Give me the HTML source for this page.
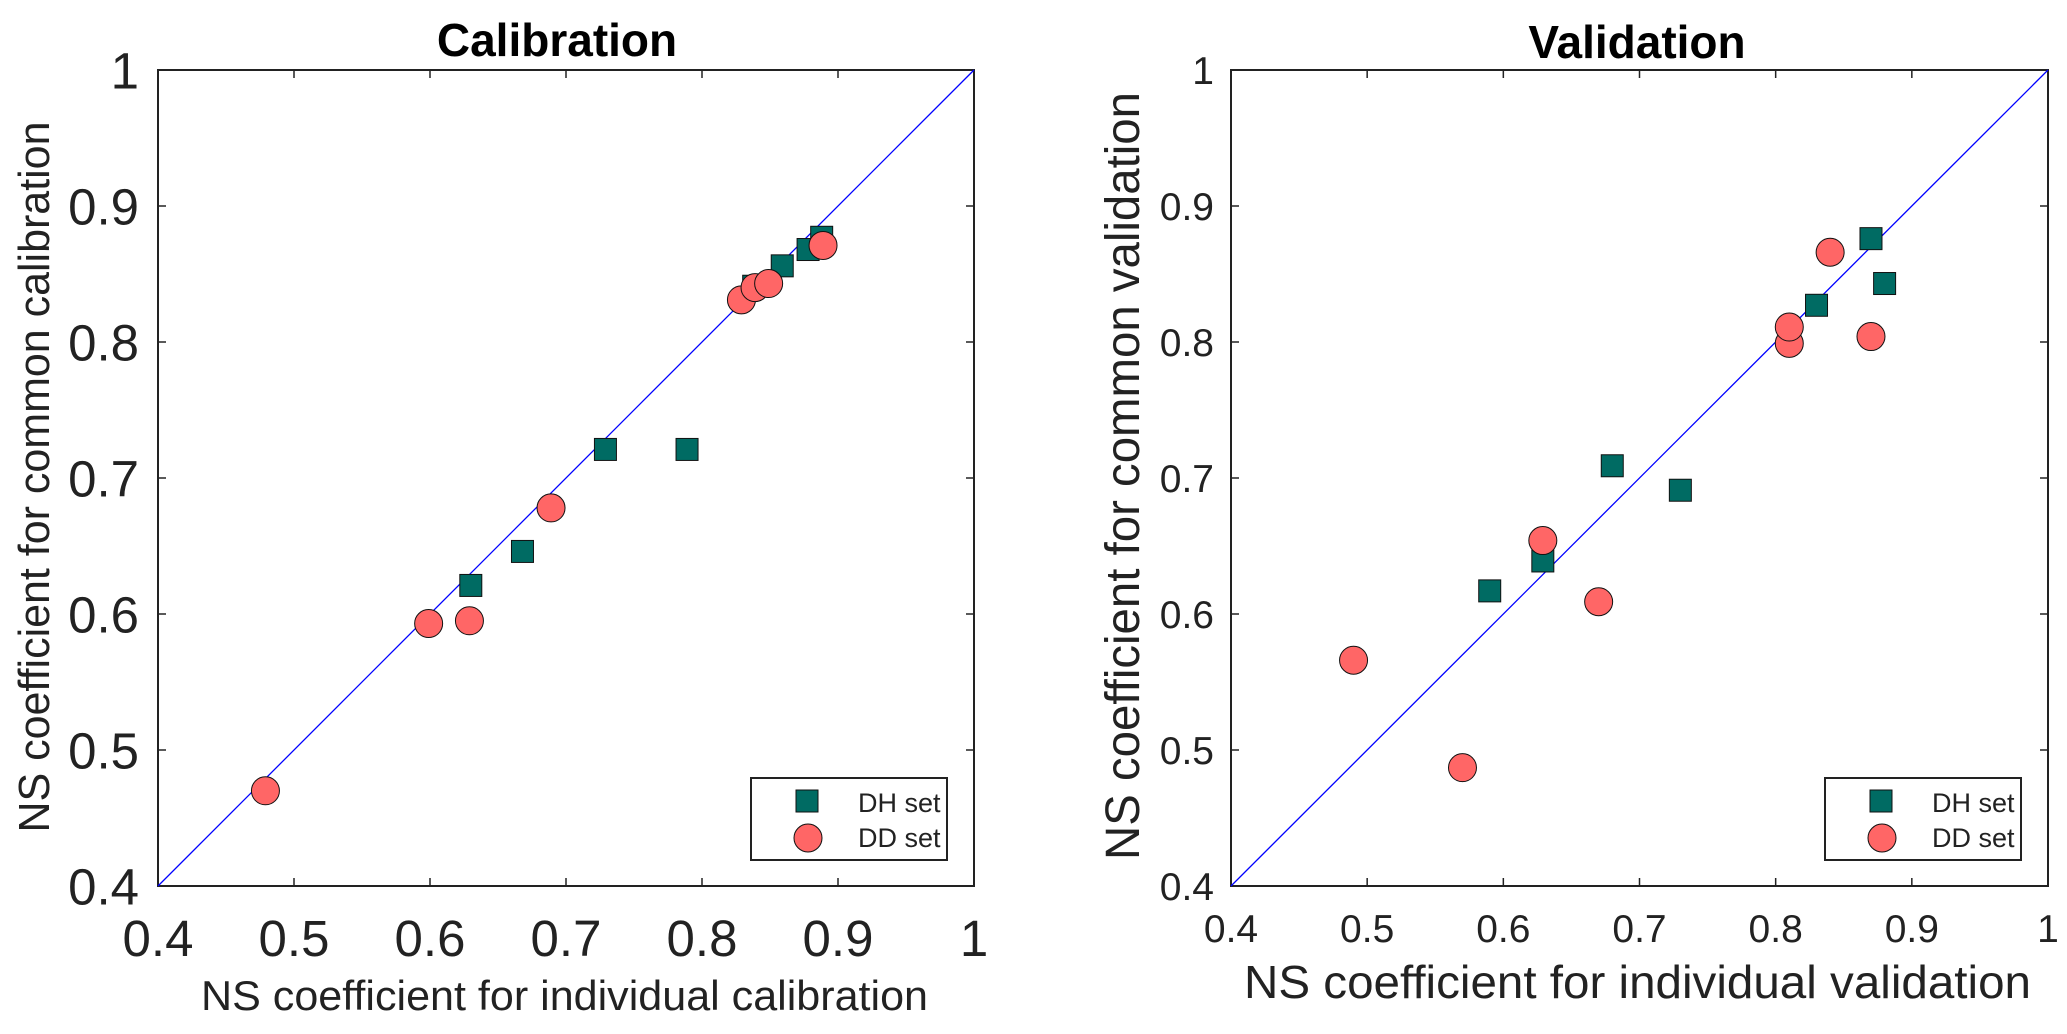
<!DOCTYPE html>
<html><head><meta charset="utf-8"><style>
html,body{margin:0;padding:0;background:#fff;}
svg{display:block;font-family:"Liberation Sans",Arial,sans-serif;}
</style></head><body>
<svg id="chart" width="2067" height="1034" viewBox="0 0 2067 1034" xmlns="http://www.w3.org/2000/svg"></svg>
<script>
// Calibration data
const calDHx = [0.63, 0.668, 0.729, 0.789, 0.838, 0.859, 0.878, 0.888];
const calDHy = [0.621, 0.646, 0.721, 0.721, 0.841, 0.856, 0.868, 0.877];
const calDDx = [0.479, 0.599, 0.629, 0.689, 0.829, 0.839, 0.849, 0.889];
const calDDy = [0.470, 0.593, 0.595, 0.678, 0.831, 0.840, 0.843, 0.871];
// Validation data
const valDHx = [0.590, 0.629, 0.680, 0.730, 0.830, 0.870, 0.880];
const valDHy = [0.617, 0.639, 0.709, 0.691, 0.827, 0.876, 0.843];
const valDDx = [0.490, 0.570, 0.629, 0.670, 0.810, 0.810, 0.840, 0.870];
const valDDy = [0.566, 0.487, 0.654, 0.609, 0.799, 0.811, 0.866, 0.804];
const tickVals = [0.4, 0.5, 0.6, 0.7, 0.8, 0.9, 1];
const tickLabels = ["0.4", "0.5", "0.6", "0.7", "0.8", "0.9", "1"];
const legendLabels = ["DH set", "DD set"];

const NS = "http://www.w3.org/2000/svg";
const svg = document.getElementById('chart');
function mk(tag, attrs, parent) {
  const e = document.createElementNS(NS, tag);
  for (const k in attrs) e.setAttribute(k, attrs[k]);
  (parent || svg).appendChild(e);
  return e;
}

function drawPanel(cfg) {
  const g = mk('g', {});
  
  
  const L = cfg.L, R = cfg.R, T = 70, B = 886;
  const sx = v => L + (v - 0.4) / 0.6 * (R - L);
  const sy = v => B - (v - 0.4) / 0.6 * (B - T);

  const box = mk('rect', {x: L, y: T, width: R - L, height: B - T, fill: 'none', stroke: '#222', 'stroke-width': 2}, g);
  
  

  tickVals.forEach((v, i) => {
    const x = sx(v), y = sy(v);
    mk('line', {x1: x, y1: B, x2: x, y2: B - 8, stroke: '#222', 'stroke-width': 1.5}, g);
    mk('line', {x1: x, y1: T, x2: x, y2: T + 8, stroke: '#222', 'stroke-width': 1.5}, g);
    mk('line', {x1: L, y1: y, x2: L + 8, y2: y, stroke: '#222', 'stroke-width': 1.5}, g);
    mk('line', {x1: R, y1: y, x2: R - 8, y2: y, stroke: '#222', 'stroke-width': 1.5}, g);
    const xt = mk('text', {x: x, y: cfg.xTickBase, 'font-size': cfg.tickFont, 'text-anchor': 'middle', fill: '#222'}, g);
    xt.textContent = tickLabels[i];
    
    
    const yt = mk('text', {x: cfg.yTickRight, y: y + cfg.tickFont * 0.36, 'font-size': cfg.tickFont, 'text-anchor': 'end', fill: '#222'}, g);
    yt.textContent = tickLabels[i];
    
    
  });

  const ln = mk('line', {x1: sx(0.4), y1: sy(0.4), x2: sx(1), y2: sy(1), stroke: '#0000ff', 'stroke-width': 1.3}, g);
  
  

  cfg.dhx.forEach((v, i) => {
    const s = mk('rect', {x: sx(v) - 11, y: sy(cfg.dhy[i]) - 11, width: 22, height: 22, fill: '#006b63', stroke: '#111', 'stroke-width': 1}, g);
    
    
  });
  cfg.ddx.forEach((v, i) => {
    const c = mk('circle', {cx: sx(v), cy: sy(cfg.ddy[i]), r: 14, fill: '#ff6666', stroke: '#111', 'stroke-width': 1}, g);
    
    
  });

  const lg = mk('g', {}, g);
  
  
  const lx = R - 223;
  mk('rect', {x: lx, y: 778, width: 196, height: 82, fill: '#fff', stroke: '#222', 'stroke-width': 2}, lg);
  mk('rect', {x: lx + 45, y: 790, width: 22, height: 22, fill: '#006b63', stroke: '#111', 'stroke-width': 1}, lg);
  mk('circle', {cx: lx + 57, cy: 838, r: 14, fill: '#ff6666', stroke: '#111', 'stroke-width': 1}, lg);
  const t1 = mk('text', {x: lx + 107, y: 812, 'font-size': 27, fill: '#222'}, lg);
  t1.textContent = legendLabels[0];
  
  
  const t2 = mk('text', {x: lx + 107, y: 847, 'font-size': 27, fill: '#222'}, lg);
  t2.textContent = legendLabels[1];
  
  

  const tt = mk('text', {x: cfg.titleX, y: cfg.titleY, 'font-size': 46, 'font-weight': 'bold', 'text-anchor': 'middle', fill: '#000'}, g);
  tt.textContent = cfg.title;
  
  

  const xl = mk('text', {x: cfg.xl[0], y: cfg.xl[1], 'font-size': cfg.xl[3], textLength: cfg.xl[2], lengthAdjust: 'spacingAndGlyphs', fill: '#222'}, g);
  xl.textContent = cfg.xlabel;
  
  

  const yl = mk('text', {x: 0, y: 0, 'font-size': cfg.yl[3], textLength: cfg.yl[2], lengthAdjust: 'spacingAndGlyphs', 'text-anchor': 'middle', fill: '#222', transform: 'translate(' + cfg.yl[0] + ',' + cfg.yl[1] + ') rotate(-90)'}, g);
  yl.textContent = cfg.ylabel;
  
  
}

drawPanel({name: 'calibration-panel', L: 158, R: 974, dhx: calDHx, dhy: calDHy, ddx: calDDx, ddy: calDDy,
  tickFont: 51, xTickBase: 956, yTickRight: 139,
  title: 'Calibration', titleX: 557, titleY: 56,
  xlabel: 'NS coefficient for individual calibration', xl: [201, 1010, 727, 42],
  ylabel: 'NS coefficient for common calibration', yl: [49, 477, 711, 44]});

drawPanel({name: 'validation-panel', L: 1231, R: 2048, dhx: valDHx, dhy: valDHy, ddx: valDDx, ddy: valDDy,
  tickFont: 39, xTickBase: 942, yTickRight: 1214,
  title: 'Validation', titleX: 1637, titleY: 58,
  xlabel: 'NS coefficient for individual validation', xl: [1244, 998, 787, 46],
  ylabel: 'NS coefficient for common validation', yl: [1139, 476, 768, 48]});
</script>
</body></html>
